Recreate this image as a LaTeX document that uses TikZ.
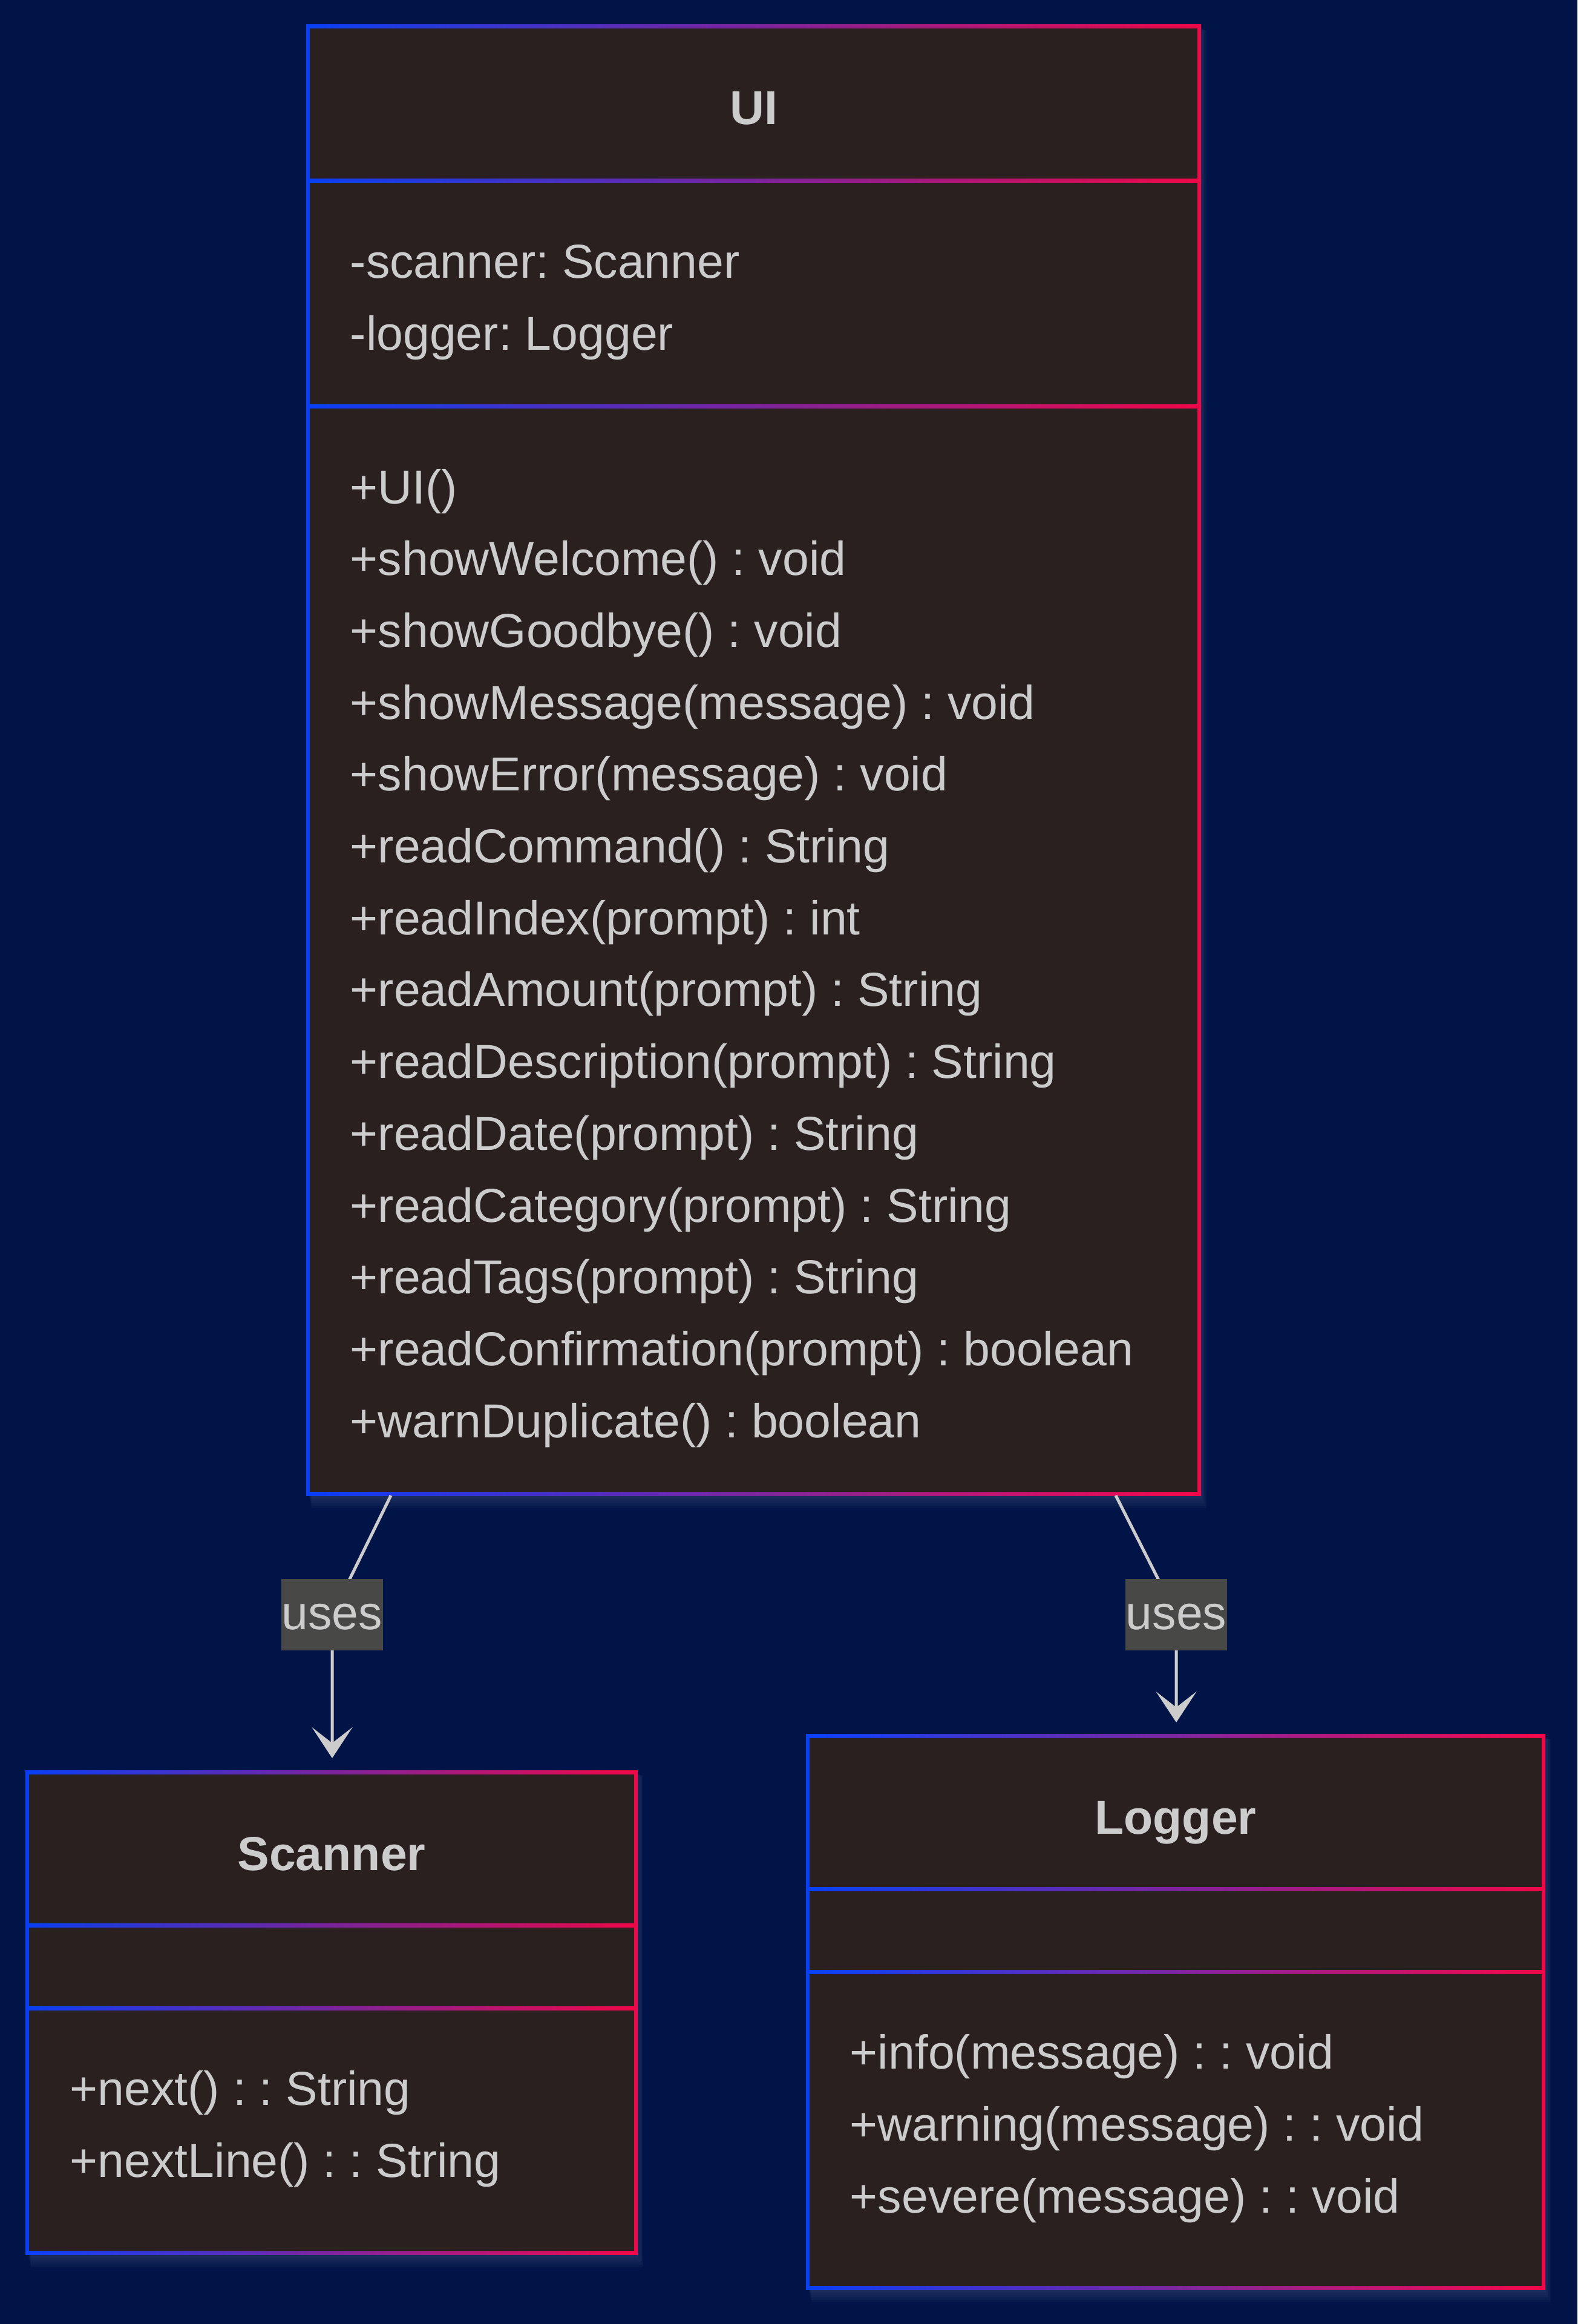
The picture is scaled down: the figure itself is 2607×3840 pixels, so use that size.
\documentclass[tikz,border=0pt]{standalone}
\usepackage{fontspec}
\setmainfont{Liberation Sans}
\usetikzlibrary{fit,arrows.meta}
\frenchspacing
\definecolor{bg}{RGB}{0,20,71}
\definecolor{boxfill}{RGB}{42,32,31}
\definecolor{bordl}{RGB}{8,64,245}
\definecolor{bordr}{RGB}{240,8,72}
\definecolor{txt}{RGB}{204,204,204}
\definecolor{lblfill}{RGB}{72,73,71}
\definecolor{shadowc}{RGB}{95,105,150}
\newcommand\gbar[3]{\shade[left color=bordl,right color=bordr] (#1,#3-3) rectangle (#2,#3+3);}
\newcommand\classbox[5]{%
  \foreach \k in {1,...,6} {\fill[shadowc,opacity=0.07] (#2+\k,#3+\k) rectangle (#4+2*\k,#5+4*\k);}
  \node[fit={(#2,#3) (#4,#5)},inner sep=0pt,outer sep=0pt,fill=boxfill] (#1) {};
  \fill[bordl] (#2-3,#3-3) rectangle (#2+3,#5+3);
  \fill[bordr] (#4-3,#3-3) rectangle (#4+3,#5+3);
  \gbar{#2-3}{#4+3}{#3}
  \gbar{#2-3}{#4+3}{#5}
}
\tikzset{
  memb/.style={anchor=base west,inner sep=0pt,text=txt,font=\fontsize{19.7}{23.6}\selectfont\frenchspacing},
  ctitle/.style={anchor=base,inner sep=0pt,text=txt,font=\fontsize{19.7}{23.6}\selectfont\bfseries},
  lbl/.style={fill=lblfill,text=txt,inner xsep=0.3pt,inner ysep=0pt,minimum height=29.5pt,text height=12.3pt,text depth=0pt,font=\fontsize{19.7}{23.6}\selectfont},
  conn/.style={draw=txt,line width=1.25pt,-{Stealth[length=12.75pt,width=16.75pt,inset=6.5pt]}}
}
\begin{document}
\begin{tikzpicture}[x=0.25pt,y=-0.25pt]
\useasboundingbox (0,0) rectangle (2607,3840);
\fill[bg] (0,0) rectangle (2607,3840);

% ---------- UI ----------
\classbox{ui}{509}{44}{1982}{2468}
\gbar{506}{1985}{299}
\gbar{506}{1985}{672}
\node[ctitle] (uit) at (1246,206) {UI};
\node[memb] (ua0) at (578,460) {-scanner: Scanner};
\node[memb] (ua1) at (578,579) {-logger: Logger};
\foreach \t [count=\i from 0] in {+UI(),+showWelcome() : void,+showGoodbye() : void,+showMessage(message) : void,+showError(message) : void,+readCommand() : String,+readIndex(prompt) : int,+readAmount(prompt) : String,+readDescription(prompt) : String,+readDate(prompt) : String,+readCategory(prompt) : String,+readTags(prompt) : String,+readConfirmation(prompt) : boolean,+warnDuplicate() : boolean}
  {\node[memb] (um\i) at (578,832+118.7*\i) {\t};}

% ---------- Scanner ----------
\classbox{scanner}{45}{2928}{1051}{3722}
\gbar{42}{1054}{3181}
\gbar{42}{1054}{3318}
\node[ctitle] (sct) at (548,3090) {Scanner};
\node[memb] (sm0) at (115,3478) {+next() : : String};
\node[memb] (sm1) at (115,3597) {+nextLine() : : String};

% ---------- Logger ----------
\classbox{logger}{1335}{2868}{2551}{3780}
\gbar{1332}{2554}{3121}
\gbar{1332}{2554}{3258}
\node[ctitle] (lgt) at (1943,3030) {Logger};
\node[memb] (lm0) at (1404,3418) {+info(message) : : void};
\node[memb] (lm1) at (1404,3537) {+warning(message) : : void};
\node[memb] (lm2) at (1404,3656) {+severe(message) : : void};

% ---------- connectors ----------
\coordinate (u1) at (646,2471);
\coordinate (u2) at (1844,2471);
\coordinate (c1) at (549,2668);
\coordinate (c2) at (1944,2668);
\coordinate (s1) at (549,2905);
\coordinate (g1) at (1944,2846);
\draw[conn] (u1) -- (c1) -- (s1);
\draw[conn] (u2) -- (c2) -- (g1);
\node[lbl] (l1) at (c1) {uses};
\node[lbl] (l2) at (c2) {uses};
\end{tikzpicture}
\end{document}
